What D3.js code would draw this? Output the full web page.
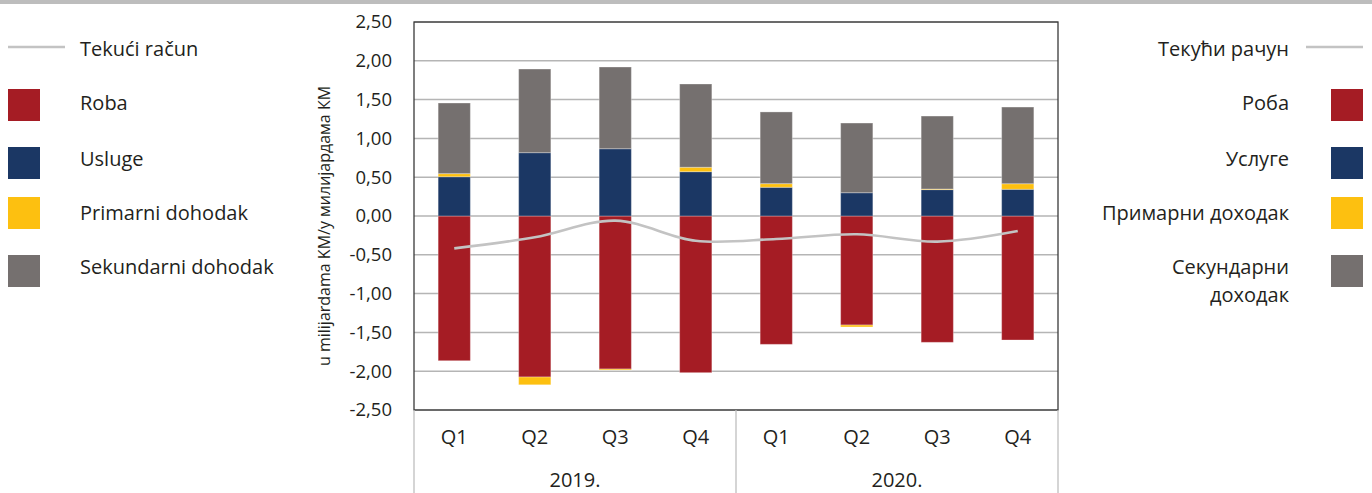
<!DOCTYPE html>
<html><head><meta charset="utf-8">
<script src="https://cdn.jsdelivr.net/npm/d3@7"></script>
<style>
html,body{margin:0;padding:0;background:#fff;}
svg{display:block;font-family:"Open Sans",sans-serif;}
</style></head>
<body><svg id="c" width="1372" height="493"></svg>
<script>
const categories = ["Q1","Q2","Q3","Q4","Q1","Q2","Q3","Q4"];
const years = ["2019.","2020."];
const roba = [-1.865,-2.075,-1.972,-2.019,-1.654,-1.405,-1.628,-1.598];
const usluge = [0.506,0.816,0.867,0.571,0.370,0.300,0.340,0.344];
const primarni = [0.040,-0.100,-0.013,0.057,0.047,-0.025,0.008,0.072];
const sekundarni = [0.910,1.078,1.053,1.073,0.924,0.898,0.940,0.988];
const tekuci = [-0.417,-0.275,-0.060,-0.320,-0.296,-0.236,-0.330,-0.194];
const yTicks = [-2.5,-2,-1.5,-1,-0.5,0,0.5,1,1.5,2,2.5];
const legendLat = ["Tekući račun","Roba","Usluge","Primarni dohodak","Sekundarni dohodak"];
const legendCyr = ["Текући рачун","Роба","Услуге","Примарни доходак",["Секундарни","доходак"]];
const yTitle = "u milijardama KM/у милијардама КМ";

const colors = {roba:"#a51c24", usluge:"#1b3764", primarni:"#fdc010", sekundarni:"#75706f", line:"#c3c3c3"};
const keys = ["roba","usluge","primarni","sekundarni"];
const rows = categories.map((c,i)=>({i, roba:roba[i], usluge:usluge[i], primarni:primarni[i], sekundarni:sekundarni[i]}));

const svg = d3.select("#c");
const L=414, R=1058, T=22, B=410;
const x = d3.scaleBand().domain(d3.range(categories.length)).range([L,R]).paddingInner(0.6).paddingOuter(0.3);
const xs = d3.scaleBand().domain(d3.range(categories.length)).range([L,R]);
const y = d3.scaleLinear().domain([-2.5,2.5]).range([B,T]);
const fmt = v => d3.format(".2f")(v).replace(".",",").replace("−","-");

// top band
svg.append("rect").attr("x",0).attr("y",0).attr("width",1372).attr("height",4).attr("fill","#bdbdbd");

// grid
svg.append("g").selectAll("line").data(yTicks).join("line")
  .attr("x1",L).attr("x2",R).attr("y1",d=>y(d)).attr("y2",d=>y(d))
  .attr("stroke","#b5b5b5").attr("stroke-width",1.5);

// y axis labels
const ya = svg.append("g").attr("transform",`translate(${L},0)`)
  .call(d3.axisLeft(y).tickValues(yTicks).tickFormat(fmt).tickSize(0).tickPadding(22));
ya.select(".domain").remove();
ya.selectAll("text").attr("font-family","Open Sans").attr("font-size",18.5).attr("fill","#231f20");

// bars
const stack = d3.stack().keys(keys).offset(d3.stackOffsetDiverging)(rows);
svg.append("g").selectAll("g").data(stack).join("g").attr("fill",d=>colors[d.key])
  .selectAll("rect").data(d=>d).join("rect")
  .attr("x",d=>x(d.data.i)).attr("width",x.bandwidth())
  .attr("y",d=>y(Math.max(d[0],d[1]))).attr("height",d=>Math.abs(y(d[0])-y(d[1])))
  .attr("stroke","#fff").attr("stroke-opacity",0.3).attr("stroke-width",1);

// line
const line = d3.line().x((d,i)=>x(i)+x.bandwidth()/2).y(d=>y(d)).curve(d3.curveCatmullRom.alpha(0.5));
svg.append("path").datum(tekuci).attr("d",line).attr("fill","none").attr("stroke",colors.line).attr("stroke-width",2.6);

// frame
svg.append("rect").attr("x",L).attr("y",T).attr("width",R-L).attr("height",B-T).attr("fill","none").attr("stroke","#3a3a3a").attr("stroke-width",1.3);

// category axis
const xa = svg.append("g").attr("transform",`translate(0,${B})`)
  .call(d3.axisBottom(xs).tickFormat(i=>categories[i]).tickSize(0).tickPadding(20));
xa.select(".domain").remove();
xa.selectAll("text").attr("font-family","Open Sans").attr("font-size",20).attr("fill","#231f20");
const seps = [0,4,8].map(i=> i<8 ? xs(i) : R);
svg.append("g").selectAll("line").data(seps).join("line")
  .attr("x1",d=>d).attr("x2",d=>d).attr("y1",B).attr("y2",493)
  .attr("stroke","#bfbfbf").attr("stroke-width",1.3);
svg.append("g").selectAll("text").data(years).join("text")
  .attr("x",(d,k)=>(xs(k*4)+ (k==0?xs(4):R))/2).attr("y",487)
  .attr("text-anchor","middle").attr("font-size",20).attr("fill","#231f20").text(d=>d);

// y title
svg.append("text").attr("transform",`translate(330,${(T+B)/2+10}) rotate(-90)`)
  .attr("text-anchor","middle").attr("font-size",16).attr("fill","#231f20").text(yTitle);

// legends
const legY = [47,105,163,213,271];
const textBase = [55.5,110,166,219.5,274];
const legColors = [colors.line, colors.roba, colors.usluge, colors.primarni, colors.sekundarni];
const gl = svg.append("g");
gl.append("line").attr("x1",8).attr("x2",65).attr("y1",legY[0]).attr("y2",legY[0]).attr("stroke",colors.line).attr("stroke-width",2.6);
gl.selectAll("rect").data([1,2,3,4]).join("rect").attr("x",8).attr("y",k=>legY[k]-16).attr("width",32).attr("height",32).attr("fill",k=>legColors[k]);
gl.selectAll("text").data(legendLat).join("text").attr("x",80).attr("y",(d,k)=>textBase[k])
  .attr("font-size",20).attr("fill","#231f20").text(d=>d);

const gr = svg.append("g");
gr.append("line").attr("x1",1306).attr("x2",1363).attr("y1",legY[0]).attr("y2",legY[0]).attr("stroke",colors.line).attr("stroke-width",2.6);
gr.selectAll("rect").data([1,2,3,4]).join("rect").attr("x",1331).attr("y",k=>legY[k]-16).attr("width",32).attr("height",32).attr("fill",k=>legColors[k]);
legendCyr.forEach((d,k)=>{
  const lines = Array.isArray(d)?d:[d];
  const t = gr.append("text").attr("x",1289).attr("y",textBase[k])
    .attr("text-anchor","end").attr("font-size",20).attr("fill","#231f20");
  lines.forEach((s,j)=>t.append("tspan").attr("x",1289).attr("dy",j==0?0:27.5).text(s));
});
</script></body></html>
